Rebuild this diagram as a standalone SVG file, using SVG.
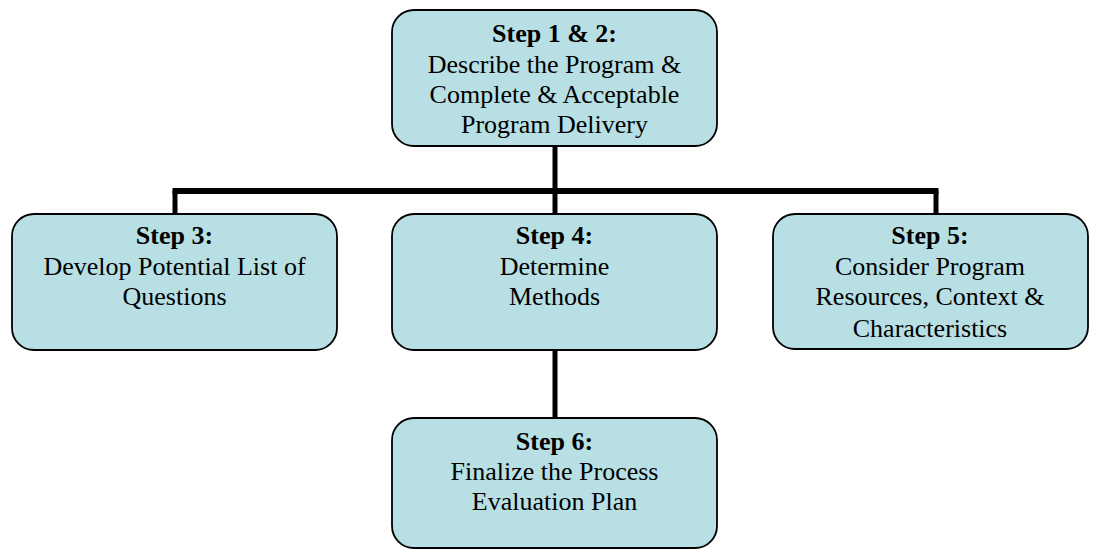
<svg xmlns="http://www.w3.org/2000/svg" width="1094" height="550" viewBox="0 0 1094 550">
<style>
.box{fill:#B8DFE3;stroke:#000;stroke-width:1.8}
.t{font-family:"Liberation Serif","Times New Roman",serif;font-size:26px;fill:#000;text-anchor:middle}
.b{font-weight:bold}
.c{stroke:#000;stroke-width:5;fill:none}
.h{stroke:#000;stroke-width:6;fill:none}
</style>
<rect width="1094" height="550" fill="#fff"/>
<g id="connectors">
<line class="c" x1="555" y1="146" x2="555" y2="191"/>
<line class="h" x1="172.5" y1="191" x2="938.5" y2="191"/>
<line class="c" x1="175" y1="191" x2="175" y2="214"/>
<line class="c" x1="555" y1="191" x2="555" y2="214"/>
<line class="c" x1="936" y1="191" x2="936" y2="214"/>
<line class="c" x1="555" y1="350" x2="555" y2="418"/>
</g>
<g id="step12">
<rect class="box" x="392" y="10" width="325" height="136" rx="22"/>
<text class="t b" x="554.5" y="42">Step 1 &amp; 2:</text>
<text class="t" x="554.5" y="73">Describe the Program &amp;</text>
<text class="t" x="554.5" y="103">Complete &amp; Acceptable</text>
<text class="t" x="554.5" y="133">Program Delivery</text>
</g>
<g id="step3">
<rect class="box" x="12" y="214" width="325" height="136" rx="22"/>
<text class="t b" x="174.5" y="244">Step 3:</text>
<text class="t" x="174.5" y="275">Develop Potential List of</text>
<text class="t" x="174.5" y="305">Questions</text>
</g>
<g id="step4">
<rect class="box" x="392" y="214" width="325" height="136" rx="22"/>
<text class="t b" x="554.5" y="244">Step 4:</text>
<text class="t" x="554.5" y="275">Determine</text>
<text class="t" x="554.5" y="305">Methods</text>
</g>
<g id="step5">
<rect class="box" x="773" y="214" width="315" height="135" rx="22"/>
<text class="t b" x="930" y="244">Step 5:</text>
<text class="t" x="930" y="275">Consider Program</text>
<text class="t" x="930" y="305">Resources, Context &amp;</text>
<text class="t" x="930" y="337">Characteristics</text>
</g>
<g id="step6">
<rect class="box" x="392" y="418" width="325" height="130" rx="22"/>
<text class="t b" x="554.5" y="450">Step 6:</text>
<text class="t" x="554.5" y="480">Finalize the Process</text>
<text class="t" x="554.5" y="510">Evaluation Plan</text>
</g>
</svg>
